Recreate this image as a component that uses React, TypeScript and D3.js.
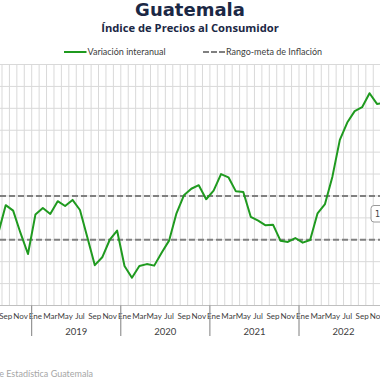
import React from "react";
import * as d3 from "d3";

const monthNames = ["Ene", "Feb", "Mar", "Abr", "May", "Jun", "Jul", "Ago", "Sep", "Oct", "Nov", "Dic"];
const years = [2018, 2019, 2020, 2021, 2022];
// first value = Ago 2018 (month index 7 from Ene 2018)
const startIndex = 7;
const inflation = [
  3.3, 4.58, 4.33, 3.3, 2.35,
  4.15, 4.45, 4.18, 4.76, 4.54, 4.82, 4.36, 3.1, 1.84, 2.2, 2.99, 3.42,
  1.8, 1.27, 1.8, 1.89, 1.82, 2.41, 2.96, 4.21, 5.03, 5.33, 5.49, 4.85,
  5.24, 6.0, 5.85, 5.21, 5.18, 4.05, 3.87, 3.66, 3.69, 2.96, 2.9, 3.08,
  2.87, 2.99, 4.21, 4.63, 5.88, 7.56, 8.35, 8.87, 9.05, 9.69, 9.2, 9.24,
];
const targetRange = [3, 5];
const yTicks = d3.range(0, 12);

export default function App() {
  const W = 380, H = 380;
  const nMonths = years.length * 12;
  const x = d3.scaleLinear().domain([0, nMonths]).range([-57.4, -57.4 + nMonths * 7.425]);
  const y = d3.scaleLinear().domain([0, 11]).range([305.5, 64.5]);
  const pts = inflation.map((v, i) => ({ m: startIndex + i, v }));
  const line = d3.line<{ m: number; v: number }>().x(d => x(d.m + 0.5)).y(d => y(d.v));
  const boundaries = d3.range(0, nMonths + 1);
  const labelMonths = d3.range(0, nMonths).filter(m => m % 2 === 0 && x(m + 0.5) > 0 && x(m + 0.5) < W);
  const font = "Lato, 'Open Sans', sans-serif";
  return (
    <svg width={W} height={H} style={{ position: "fixed", left: 0, top: 0, background: "#fff" }}>
      <rect width={W} height={H} fill="#fff" />
      <text x={190} y={16} textAnchor="middle" fontFamily="'DejaVu Sans', sans-serif" fontWeight={700} fontSize={18} fill="#1b2845">Guatemala</text>
      <text x={190} y={32} textAnchor="middle" fontFamily="'Open Sans', sans-serif" fontWeight={700} fontSize={11.2} fill="#1b2845">Índice de Precios al Consumidor</text>
      {/* legend */}
      <line x1={64} x2={86.5} y1={52} y2={52} stroke="#1f9a1f" strokeWidth={2} />
      <text x={87.5} y={55} fontFamily={font} fontSize={9} fill="#404040">Variación interanual</text>
      <line x1={203} x2={225} y1={52} y2={52} stroke="#808080" strokeWidth={2} strokeDasharray="6,2" />
      <text x={226} y={55} fontFamily={font} fontSize={9} fill="#404040">Rango-meta de Inflación</text>
      {/* grid */}
      {yTicks.map(t => (
        <line key={"h" + t} x1={0} x2={W} y1={y(t)} y2={y(t)} stroke="#d9d9d9" strokeWidth={1} />
      ))}
      {boundaries.map(b => (
        <line key={"v" + b} x1={x(b)} x2={x(b)} y1={y(11)} y2={y(0)} stroke="#d9d9d9" strokeWidth={1} />
      ))}
      <line x1={0} x2={W} y1={y(0)} y2={y(0)} stroke="#bfbfbf" strokeWidth={1} />
      {/* target range */}
      {targetRange.map(t => (
        <line key={"t" + t} x1={0} x2={W} y1={y(t)} y2={y(t)} stroke="#808080" strokeWidth={2} strokeDasharray="6,3" />
      ))}
      <path d={line(pts) || ""} fill="none" stroke="#1f9a1f" strokeWidth={2} strokeLinejoin="round" />
      {/* right label box */}
      <rect x={371} y={205.5} width={40} height={16.5} rx={3} fill="#fff" stroke="#9a9a9a" strokeWidth={1} />
      <text x={375} y={217} fontFamily="'DejaVu Sans', sans-serif" fontSize={8} fill="#404040">1</text>
      {/* x axis labels */}
      {labelMonths.map(m => (
        <text key={"m" + m} x={x(m + 0.5)} y={318.5} textAnchor="middle" fontFamily={font} fontSize={8} fill="#404040">{monthNames[m % 12]}</text>
      ))}
      {years.map((yr, i) => (
        <g key={"y" + yr}>
          <line x1={x(i * 12)} x2={x(i * 12)} y1={y(0)} y2={336} stroke="#7f7f7f" strokeWidth={1} />
          {x(i * 12 + 6) > 0 && (
            <text x={x(i * 12 + 6)} y={335} textAnchor="middle" fontFamily={font} fontSize={9.5} fill="#404040">{yr}</text>
          )}
        </g>
      ))}
      <text x={93} y={377} textAnchor="end" fontFamily={font} fontSize={9} fill="#a6a6a6">Fuente: Instituto Nacional de Estadística Guatemala</text>
    </svg>
  );
}
